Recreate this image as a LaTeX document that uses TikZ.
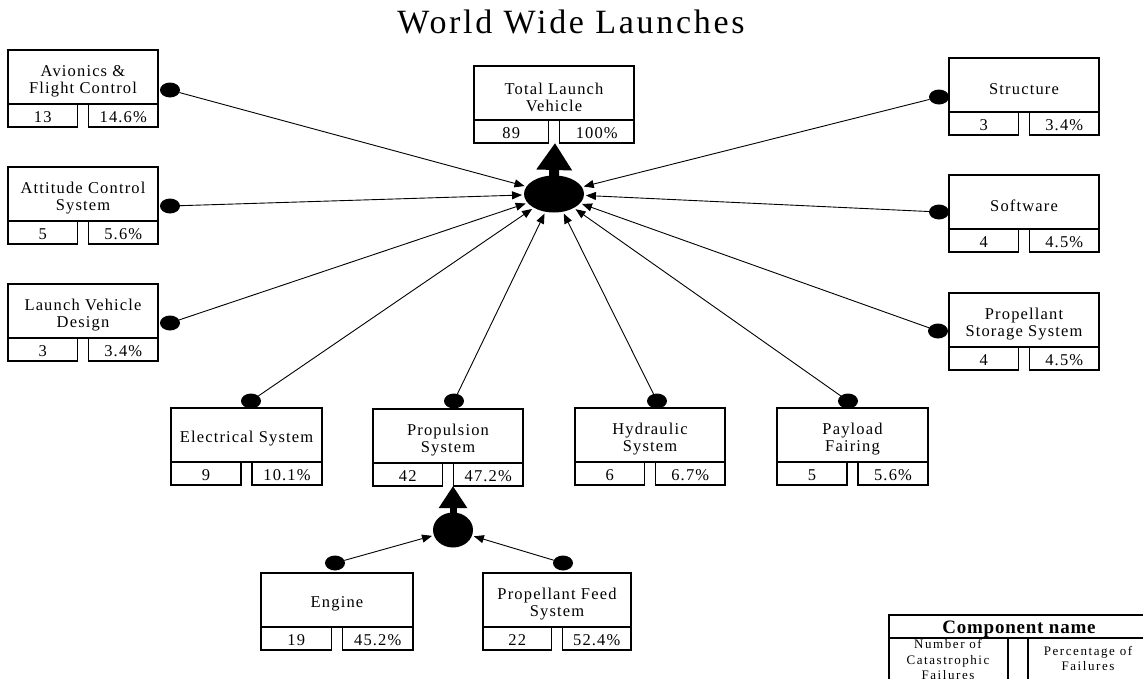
\documentclass[tikz,border=0pt]{standalone}
\usepackage{fontspec}
\setmainfont{Liberation Serif}
\newfontfamily\bxfont[LetterSpace=7]{Liberation Serif}
\newfontfamily\ttlfont[LetterSpace=8]{Liberation Serif}
\newfontfamily\lgfont[LetterSpace=12]{Liberation Serif}
\newfontfamily\lgtfont[LetterSpace=4]{Liberation Serif}
\usetikzlibrary{shapes.geometric,arrows.meta}
\newcommand\compbox[7]{%
  \node[upper,minimum width=#4pt] (#1) at (#2,#3) {};
  \node[boxtext] (#1-t) at ([yshift=-4pt]#1.center) {#5};
  \node[cell,anchor=north west,minimum width={(#4pt-11pt)/2}] (#1-n) at (#1.south west) {#6};
  \node[cell,anchor=north east,minimum width={(#4pt-11pt)/2}] (#1-p) at (#1.south east) {#7};
}
\begin{document}
\begin{tikzpicture}[x=1pt,y=-1pt,
  upper/.style={draw,line width=1.1pt,minimum height=54pt,inner sep=0pt,outer sep=0pt,anchor=north west},
  cell/.style={draw,line width=1.1pt,minimum height=23pt,inner sep=0pt,outer sep=0pt,
    text height=13.5pt,text depth=0pt,font=\bxfont\fontsize{16.5pt}{17pt}\selectfont},
  boxtext/.style={align=center,inner sep=0pt,font=\bxfont\fontsize{16.5pt}{17pt}\selectfont},
  dot/.style={ellipse,fill=black,minimum width=20pt,minimum height=15pt,inner sep=0pt,outer sep=0pt},
  hub/.style={ellipse,fill=black,inner sep=0pt,outer sep=2pt},
  conn/.style={line width=0.9pt,-{Triangle[length=10pt,width=8pt]}},
  lgtext/.style={anchor=base,inner sep=0pt,font=\lgfont\fontsize{13pt}{15pt}\selectfont}
]
\useasboundingbox (0,0) rectangle (1143,678);
\clip (0,0) rectangle (1143,678);
\fill[white] (0,0) rectangle (1143,678);

% title
\node[anchor=base,inner sep=0pt,font=\ttlfont\fontsize{34pt}{36pt}\selectfont] (title) at (571,33) {World Wide Launches};

% components
\compbox{av}{8}{50}{150}{Avionics \&\\Flight Control}{13}{14.6\%}
\compbox{ac}{8}{167}{150}{Attitude Control\\System}{5}{5.6\%}
\compbox{lv}{8}{284}{150}{Launch Vehicle\\Design}{3}{3.4\%}
\compbox{tl}{474}{66}{160}{Total Launch\\Vehicle}{89}{100\%}
\compbox{st}{949}{58}{150}{Structure}{3}{3.4\%}
\compbox{sw}{949}{175}{150}{Software}{4}{4.5\%}
\compbox{ps}{949}{293}{150}{Propellant\\Storage System}{4}{4.5\%}
\compbox{el}{171}{408}{151}{Electrical System}{9}{10.1\%}
\compbox{pr}{373}{409}{150}{Propulsion\\System}{42}{47.2\%}
\compbox{hy}{575}{408}{150}{Hydraulic\\System}{6}{6.7\%}
\compbox{pf}{777}{408}{151}{Payload\\Fairing}{5}{5.6\%}
\compbox{en}{261}{573}{152}{Engine}{19}{45.2\%}
\compbox{fe}{483}{573}{148}{Propellant Feed\\System}{22}{52.4\%}

% hubs
\node[hub,minimum width=60pt,minimum height=37pt] (hub) at (554,194) {};
\node[hub,minimum width=40pt,minimum height=35pt] (phub) at (453,530) {};
\coordinate (tl-b) at (555,143);
\coordinate (pr-b) at (453,486);
\draw[line width=10pt,-{Triangle[length=27pt,width=34pt]}] ([yshift=-4pt]hub.north) -- (tl-b);
\draw[line width=7pt,-{Triangle[length=22pt,width=27pt]}] ([yshift=-4pt]phub.north) -- (pr-b);

% dots
\node[dot] (av-d) at (170,90) {};
\node[dot] (ac-d) at (170,206) {};
\node[dot] (lv-d) at (170,323) {};
\node[dot] (st-d) at (939,97) {};
\node[dot] (sw-d) at (939,212) {};
\node[dot] (ps-d) at (938,331) {};
\node[dot] (el-d) at (251,401) {};
\node[dot] (pr-d) at (454,401) {};
\node[dot] (hy-d) at (657,401) {};
\node[dot] (pf-d) at (848,401) {};
\node[dot] (en-d) at (335,563) {};
\node[dot] (fe-d) at (563,563) {};

% connectors
\foreach \n in {av,ac,lv,st,sw,ps,el,pr,hy,pf}{\draw[conn] (\n-d) -- (hub);}
\foreach \n in {en,fe}{\draw[conn] (\n-d) -- (phub);}

% legend
\node[draw,line width=1.1pt,anchor=north west,minimum width=265pt,minimum height=23pt,inner sep=0pt,outer sep=0pt] (lg) at (889,615) {};
\node[draw,line width=1.1pt,anchor=north west,minimum width=119pt,minimum height=60pt,inner sep=0pt,outer sep=0pt] (lg-n) at (889,638) {};
\node[draw,line width=1.1pt,anchor=north west,minimum width=126pt,minimum height=60pt,inner sep=0pt,outer sep=0pt] (lg-p) at (1028,638) {};
\node[anchor=base,inner sep=0pt,font=\lgtfont\bfseries\fontsize{19pt}{22pt}\selectfont] (lg-t) at (1019,633) {Component name};
\node[lgtext] (lg-n1) at (948,648) {Number of};
\node[lgtext] (lg-n2) at (948,664) {Catastrophic};
\node[lgtext] (lg-n3) at (948,679) {Failures};
\node[lgtext] (lg-p1) at (1088,655) {Percentage of};
\node[lgtext] (lg-p2) at (1088,670) {Failures};
\end{tikzpicture}
\end{document}
